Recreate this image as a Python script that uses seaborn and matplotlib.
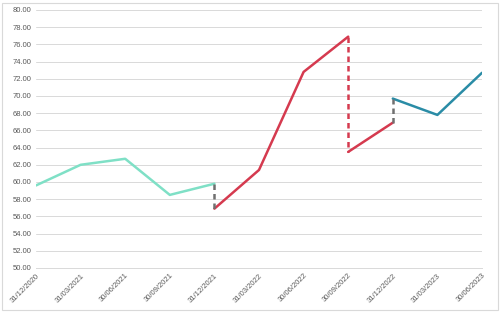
import matplotlib
matplotlib.use("Agg")
import matplotlib.pyplot as plt
import seaborn as sns
import pandas as pd
from matplotlib.patches import Rectangle

dates = ["31/12/2020", "31/03/2021", "30/06/2021", "30/09/2021", "31/12/2021",
         "31/03/2022", "30/06/2022", "30/09/2022", "31/12/2022", "31/03/2023", "30/06/2023"]

# segment 1 (teal): indices 0..4
seg1_idx = [0, 1, 2, 3, 4]
seg1_val = [59.6, 62.0, 62.7, 58.5, 59.8]
# segment 2 (red): indices 4..7
seg2_idx = [4, 5, 6, 7]
seg2_val = [56.9, 61.4, 72.8, 76.9]
# segment 3 (red): indices 7..8
seg3_idx = [7, 8]
seg3_val = [63.5, 66.9]
# segment 4 (blue): indices 8..10
seg4_idx = [8, 9, 10]
seg4_val = [69.7, 67.8, 72.7]

# dashed connectors
gap1 = [59.8, 56.9]   # at index 4, grey
gap2 = [76.9, 63.5]   # at index 7, red
gap3 = [66.9, 69.7]   # at index 8, grey

teal = "#7fe0c6"
red = "#d53a4f"
blue = "#2a8ca6"
grey = "#707070"

sns.set_theme(style="white")
plt.rcParams['font.family'] = ['Calibri', 'Liberation Sans', 'DejaVu Sans']

fig = plt.figure(figsize=(5.0, 3.12), dpi=100)
ax = fig.add_axes([36/500, 1 - 268/312, (482-36)/500, (268-10)/312])

def draw(idx, val, color, style="-"):
    df = pd.DataFrame({"x": idx, "y": val})
    sns.lineplot(data=df, x="x", y="y", ax=ax, color=color, linewidth=1.8,
                 linestyle=style, sort=False, estimator=None, errorbar=None,
                 dashes=False)
    if style != "-":
        ax.lines[-1].set_linestyle((0, (2.2, 1.6)))

draw(seg1_idx, seg1_val, teal)
draw(seg2_idx, seg2_val, red)
draw(seg3_idx, seg3_val, red)
draw(seg4_idx, seg4_val, blue)
draw([4, 4], gap1, grey, "--")
draw([7, 7], gap2, red, "--")
draw([8, 8], gap3, grey, "--")

ax.set_xlim(0, 10)
ax.set_ylim(50, 80)
ax.set_yticks([50 + 2 * i for i in range(16)])
ax.set_yticklabels([f"{50 + 2 * i:.2f}" for i in range(16)])
ax.set_xticks(range(len(dates)))
ax.set_xticklabels(dates, rotation=45, ha="right", rotation_mode="anchor")
ax.tick_params(axis="both", labelsize=5.5, labelcolor="#595959", length=0, pad=3)
ax.grid(axis="y", color="#d9d9d9", linewidth=0.7)
ax.set_axisbelow(True)
for s in ax.spines.values():
    s.set_visible(False)
ax.spines["bottom"].set_visible(True)
ax.spines["bottom"].set_color("#d9d9d9")
ax.spines["bottom"].set_linewidth(0.7)
ax.set_xlabel("")
ax.set_ylabel("")

fig.patches.append(Rectangle((2/500, 2/312), 496/500, 307/312, transform=fig.transFigure,
                             fill=False, edgecolor="#d9d9d9", linewidth=0.8))

fig.savefig("out.png", dpi=100)
